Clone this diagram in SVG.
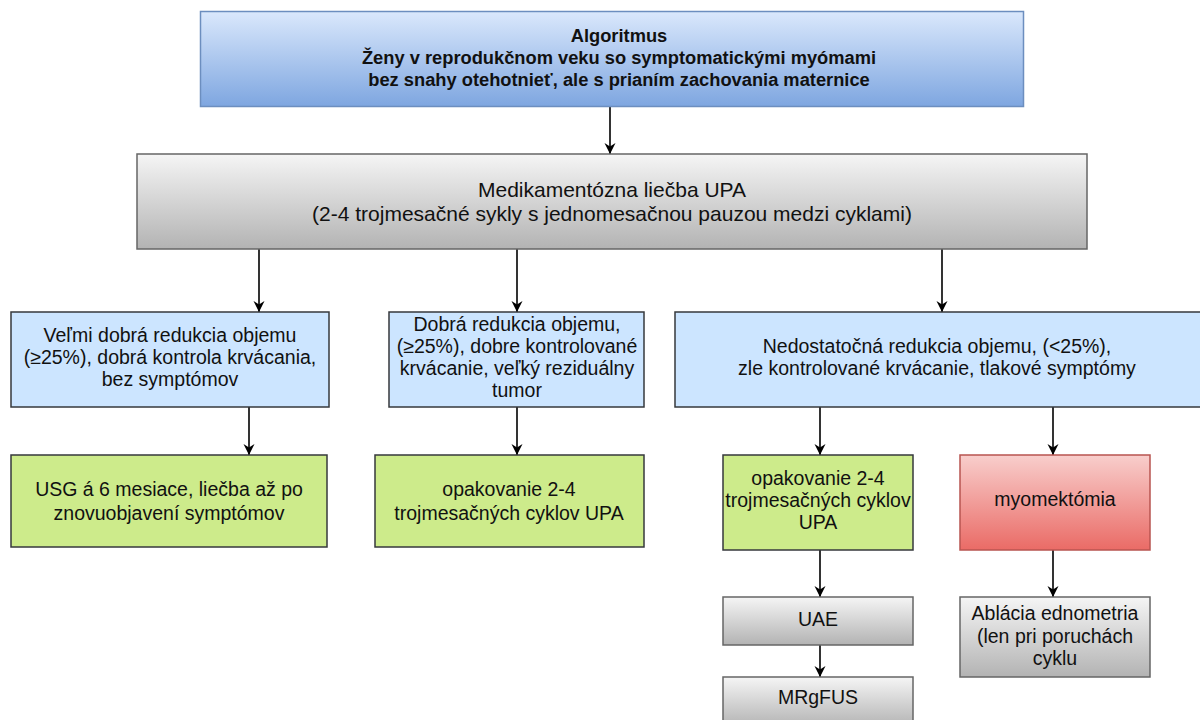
<svg xmlns="http://www.w3.org/2000/svg" width="1200" height="720" viewBox="0 0 1200 720">
<style>
text{font-family:"Liberation Sans",Arial,sans-serif;font-size:19.5px;fill:#111;text-anchor:middle}
.t{font-weight:bold;font-size:18.3px}
.big{font-size:21px}
.edge{stroke:#000;stroke-width:1.6;fill:none;marker-end:url(#ah)}
.lb{fill:#cce5ff;stroke:#36393d;stroke-width:1.5}
.gr{fill:#cdeb8b;stroke:#36393d;stroke-width:1.5}
.gy{fill:url(#ggray);stroke:#666;stroke-width:1.5}
</style>
<defs>
<linearGradient id="gblue" x1="0" y1="0" x2="0" y2="1"><stop offset="0" stop-color="#dae8fc"/><stop offset="1" stop-color="#7ea6e0"/></linearGradient>
<linearGradient id="ggray" x1="0" y1="0" x2="0" y2="1"><stop offset="0" stop-color="#f5f5f5"/><stop offset="1" stop-color="#b3b3b3"/></linearGradient>
<linearGradient id="gred" x1="0" y1="0" x2="0" y2="1"><stop offset="0" stop-color="#f8cecc"/><stop offset="1" stop-color="#ea6b66"/></linearGradient>
<marker id="ah" markerUnits="userSpaceOnUse" markerWidth="12" markerHeight="12" refX="11" refY="6" orient="auto" viewBox="0 0 12 12">
<path d="M0,0.5 L11,6 L0,11.5 L3.5,6 Z" fill="#000"/>
</marker>
</defs>
<rect width="1200" height="720" fill="#fff"/>
<g id="connectors">
<line class="edge" x1="610" y1="107" x2="610" y2="154"/>
<line class="edge" x1="259" y1="249" x2="259" y2="312"/>
<line class="edge" x1="517" y1="249" x2="517" y2="312"/>
<line class="edge" x1="942" y1="249" x2="942" y2="312"/>
<line class="edge" x1="249" y1="407" x2="249" y2="455"/>
<line class="edge" x1="517" y1="407" x2="517" y2="455"/>
<line class="edge" x1="820" y1="407" x2="820" y2="455"/>
<line class="edge" x1="1053" y1="407" x2="1053" y2="455"/>
<line class="edge" x1="820" y1="550" x2="820" y2="597"/>
<line class="edge" x1="820" y1="645" x2="820" y2="677"/>
<line class="edge" x1="1053" y1="550" x2="1053" y2="597"/>
</g>
<g id="n-title">
<rect x="200.5" y="11.5" width="823" height="95" fill="url(#gblue)" stroke="#6c8ebf" stroke-width="1.5"/>
<text class="t" x="619" y="42">Algoritmus</text>
<text class="t" x="619" y="64">Ženy v reprodukčnom veku so symptomatickými myómami</text>
<text class="t" x="619" y="86">bez snahy otehotnieť, ale s prianím zachovania maternice</text>
</g>
<g id="n-upa">
<rect class="gy" x="137" y="154" width="950" height="95"/>
<text class="big" x="612" y="197">Medikamentózna liečba UPA</text>
<text class="big" x="612" y="221">(2-4 trojmesačné sykly s jednomesačnou pauzou medzi cyklami)</text>
</g>
<g id="n-very-good">
<rect class="lb" x="11" y="312" width="318" height="95"/>
<text x="170" y="342">Veľmi dobrá redukcia objemu</text>
<text x="170" y="364">(≥25%), dobrá kontrola krvácania,</text>
<text x="170" y="386">bez symptómov</text>
</g>
<g id="n-good">
<rect class="lb" x="389" y="312" width="255" height="95"/>
<text x="517" y="331">Dobrá redukcia objemu,</text>
<text x="517" y="353">(≥25%), dobre kontrolované</text>
<text x="517" y="375">krvácanie, veľký reziduálny</text>
<text x="517" y="397">tumor</text>
</g>
<g id="n-insufficient">
<rect class="lb" x="675" y="312" width="530" height="95"/>
<text x="937" y="353">Nedostatočná redukcia objemu, (&lt;25%),</text>
<text x="937" y="375">zle kontrolované krvácanie, tlakové symptómy</text>
</g>
<g id="n-usg">
<rect class="gr" x="11" y="455" width="316" height="92"/>
<text x="169" y="496">USG á 6 mesiace, liečba až po</text>
<text x="169" y="520">znovuobjavení symptómov</text>
</g>
<g id="n-repeat1">
<rect class="gr" x="375" y="455" width="269" height="92"/>
<text x="509" y="496">opakovanie 2-4</text>
<text x="509" y="520">trojmesačných cyklov UPA</text>
</g>
<g id="n-repeat2">
<rect class="gr" x="723" y="455" width="190" height="95"/>
<text x="818" y="485">opakovanie 2-4</text>
<text x="818" y="507">trojmesačných cyklov</text>
<text x="818" y="529">UPA</text>
</g>
<g id="n-myom">
<rect x="960" y="455" width="190" height="95" fill="url(#gred)" stroke="#b85450" stroke-width="1.5"/>
<text x="1055" y="506">myomektómia</text>
</g>
<g id="n-uae">
<rect class="gy" x="723" y="597" width="190" height="48"/>
<text x="818" y="626">UAE</text>
</g>
<g id="n-mrgfus">
<rect class="gy" x="723" y="677" width="190" height="50"/>
<text x="818" y="704">MRgFUS</text>
</g>
<g id="n-ablacia">
<rect class="gy" x="960" y="597" width="190" height="80"/>
<text x="1055" y="620">Ablácia ednometria</text>
<text x="1055" y="643">(len pri poruchách</text>
<text x="1055" y="665">cyklu</text>
</g>
</svg>
